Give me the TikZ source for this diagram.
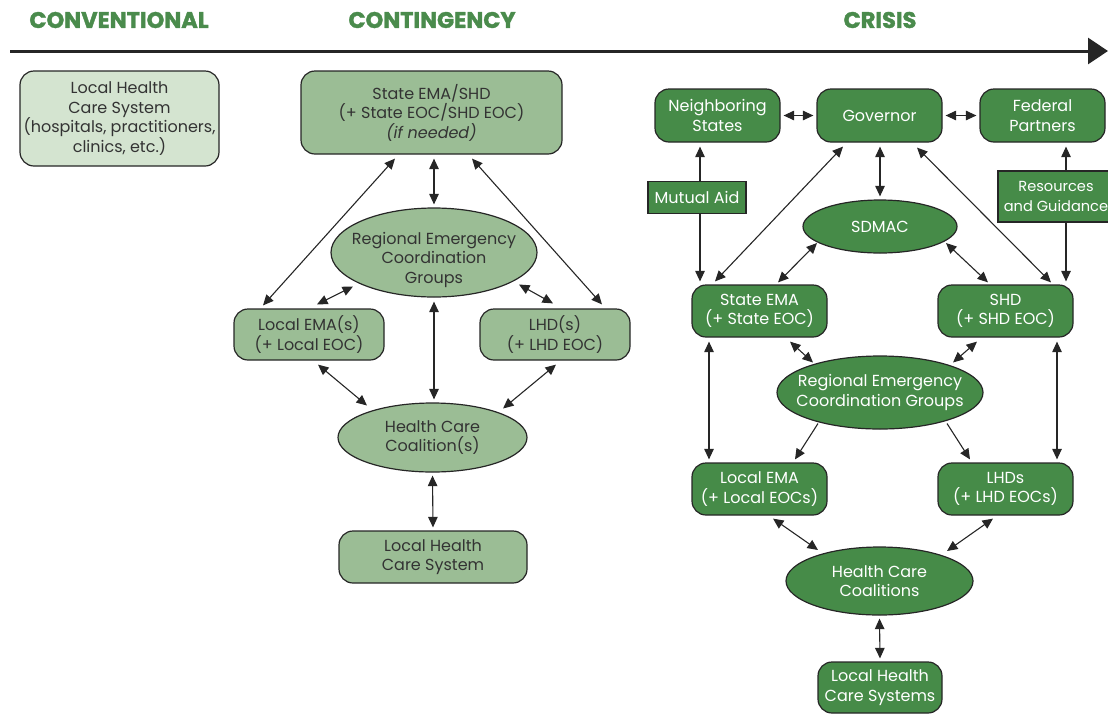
\documentclass[tikz,border=0pt]{standalone}
\usepackage{fontspec}
\setmainfont{Poppins}
\newfontfamily\titlefont{Poppins}[BoldFeatures={FakeBold=1.6}]
\usetikzlibrary{arrows.meta,shapes.geometric,calc}
\definecolor{convfill}{HTML}{D4E4D0}
\definecolor{contfill}{HTML}{9BBD95}
\definecolor{crisfill}{HTML}{468B48}
\definecolor{titlegreen}{HTML}{4A8B4C}
\definecolor{edge}{HTML}{262626}
\definecolor{txt}{HTML}{333333}
\tikzset{
  base/.style={draw=edge, line width=1.2pt, align=center, inner sep=0pt,
    font=\fontsize{16}{19.5}\selectfont},
  rbox/.style={base, rounded corners=14pt},
  convbox/.style={rbox, fill=convfill, text=txt},
  contbox/.style={rbox, fill=contfill, text=txt},
  contell/.style={base, ellipse, fill=contfill, text=txt},
  crisbox/.style={rbox, fill=crisfill, text=white},
  crisell/.style={base, ellipse, fill=crisfill, text=white},
  labbox/.style={base, fill=crisfill, text=white},
  plain/.style={align=center, inner sep=0pt, font=\fontsize{16}{19.5}\selectfont},
  ttl/.style={text=titlegreen, font=\fontsize{22.5}{26}\selectfont\titlefont\bfseries},
  arr/.style={draw=edge, line width=1.1pt, {Triangle[length=10.5pt,width=9.5pt]}-{Triangle[length=10.5pt,width=9.5pt]}},
  arrone/.style={draw=edge, line width=1.1pt, -{Triangle[length=10.5pt,width=9.5pt]}},
}
\begin{document}
\begin{tikzpicture}[x=1pt,y=-1pt]
\useasboundingbox (0,0) rectangle (1108,713);
% titles and axis
\node[ttl] (t1) at (119,20) {CONVENTIONAL};
\node[ttl] (t2) at (432,20) {CONTINGENCY};
\node[ttl] (t3) at (880,20) {CRISIS};
\coordinate (axS) at (10,51);
\coordinate (axE) at (1108,51);
\draw[line width=3pt, draw=edge, -{Triangle[length=20pt,width=26pt]}] (axS) -- (axE);

% conventional
\node[convbox, minimum width=199pt, minimum height=95pt] (conv) at (119.5,118.5)
  {Local Health\\Care System\\(hospitals, practitioners,\\clinics, etc.)};

% contingency
\node[contbox, minimum width=261pt, minimum height=83pt] (st) at (431.5,112.5)
  {State EMA/SHD\\(+ State EOC/SHD EOC)\\\textit{(if needed)}};
\node[contell, minimum width=206pt, minimum height=89pt] (rec) at (434,252.5) {};
\node[plain, text=txt] (rect) at ($(rec.center)+(0,7)$)
  {Regional Emergency\\Coordination\\Groups};
\node[contbox, minimum width=150pt, minimum height=51pt] (lema) at (309,334.5)
  {Local EMA(s)\\(+ Local EOC)};
\node[contbox, minimum width=150pt, minimum height=51pt] (lhd) at (555,334.5)
  {LHD(s)\\(+ LHD EOC)};
\node[contell, minimum width=189pt, minimum height=69pt] (hcc) at (432.5,437.5)
  {Health Care\\Coalition(s)};
\node[contbox, minimum width=188pt, minimum height=52pt] (lhcs) at (433,557)
  {Local Health\\Care System};

\draw[arr] ($(st.south)+(-36.5,4)$) -- ($(lema.north)+(-46,-3)$);
\draw[arr] ($(st.south -| rec.north)+(0,4)$) -- ($(rec.north)+(0,-3)$);
\draw[arr] ($(st.south)+(40.5,4)$) -- ($(lhd.north)+(47,-4)$);
\draw[arr] ($(rec.center)+(-81,34)$) -- ($(lema.north)+(8,-4)$);
\draw[arr] ($(rec.center)+(85,32)$) -- ($(lhd.north)+(-2,-5)$);
\draw[arr] ($(hcc.north -| rec.south)+(0,-3)$) -- ($(rec.south)+(0,4)$);
\draw[arr] ($(lema.south)+(9,4)$) -- ($(hcc.center)+(-65.5,-32)$);
\draw[arr] ($(lhd.south)+(1,4)$) -- ($(hcc.center)+(70.5,-29)$);
\draw[arr] ($(hcc.south)+(0,3)$) -- ($(lhcs.north)+(0,-3)$);

% crisis
\node[crisbox, minimum width=125pt, minimum height=53pt] (ns) at (717.5,115.5) {Neighboring\\States};
\node[crisbox, minimum width=125pt, minimum height=53pt] (gov) at (879.5,115.5) {Governor};
\node[crisbox, minimum width=125pt, minimum height=53pt] (fp) at (1042.5,115.5) {Federal\\Partners};
\node[crisell, minimum width=154pt, minimum height=53pt] (sdmac) at (880,226.5) {SDMAC};
\node[crisbox, minimum width=135pt, minimum height=52pt] (sema) at (759.5,311) {State EMA\\(+ State EOC)};
\node[crisbox, minimum width=135pt, minimum height=52pt] (shd) at (1005.5,311) {SHD\\(+ SHD EOC)};
\node[crisell, minimum width=206pt, minimum height=73pt] (rec2) at (880,392.5) {};
\node[plain, text=white] (rec2t) at (rec2.center) {Regional Emergency\\Coordination Groups};
\node[crisbox, minimum width=135pt, minimum height=52pt] (lema2) at (759.5,489) {Local EMA\\(+ Local EOCs)};
\node[crisbox, minimum width=135pt, minimum height=52pt] (lhds) at (1005.5,489) {LHDs\\(+ LHD EOCs)};
\node[crisell, minimum width=187pt, minimum height=68pt] (hcc2) at (879.5,581) {Health Care\\Coalitions};
\node[crisbox, minimum width=124pt, minimum height=51pt] (lhcs2) at (880,687.5) {Local Health\\Care Systems};

\draw[arr] ($(ns.east)+(3,0)$) -- ($(gov.west)+(-3,0)$);
\draw[arr] ($(gov.east)+(3,0)$) -- ($(fp.west)+(-3,0)$);
\draw[arr] ($(ns.south)+(-17.5,4)$) -- node[labbox, pos=0.375, xshift=-3pt, minimum width=98pt, minimum height=32pt] (ma) {Mutual Aid} ($(sema.north)+(-59.5,-3)$);
\draw[arr] ($(fp.south)+(23.5,4)$) -- node[labbox, pos=0.37, xshift=-10pt, minimum width=116pt, minimum height=51pt, font=\fontsize{14.6}{19.5}\selectfont] (rg) {Resources\\and Guidance} ($(shd.north)+(60.5,-3)$);
\draw[arr] ($(gov.south)+(-36.5,4)$) -- ($(sema.north)+(-44.5,-3)$);
\draw[arr] ($(gov.south)+(0.5,4)$) -- ($(sdmac.north)+(0,-3)$);
\draw[arr] ($(gov.south)+(37.5,5)$) -- ($(shd.north)+(45.5,-2)$);
\draw[arr] ($(sdmac.center)+(-63,16.5)$) -- ($(sema.north)+(18.5,-2)$);
\draw[arr] ($(sdmac.center)+(66,16.5)$) -- ($(shd.north)+(-17.5,-2)$);
\draw[arr] ($(sema.south)+(30.5,4)$) -- ($(rec2.center)+(-67,-30)$);
\draw[arr] ($(shd.south)+(-28.5,4)$) -- ($(rec2.center)+(73,-30)$);
\draw[arr] ($(sema.south)+(-50.5,4)$) -- ($(lema2.north)+(-50.5,-3)$);
\draw[arr] ($(shd.south)+(51.5,4)$) -- ($(lhds.north)+(51.5,-3)$);
\draw[arrone] ($(rec2.center)+(-62,31)$) -- ($(lema2.north)+(35.5,-3)$);
\draw[arrone] ($(rec2.center)+(67,31)$) -- ($(lhds.north)+(-35.5,-3)$);
\draw[arr] ($(lema2.south)+(13.5,3)$) -- ($(hcc2.center)+(-61.5,-31)$);
\draw[arr] ($(lhds.south)+(-12.5,3)$) -- ($(hcc2.center)+(67.5,-30)$);
\draw[arr] ($(hcc2.south)+(0,3)$) -- ($(lhcs2.north)+(0,-3)$);
\end{tikzpicture}
\end{document}
